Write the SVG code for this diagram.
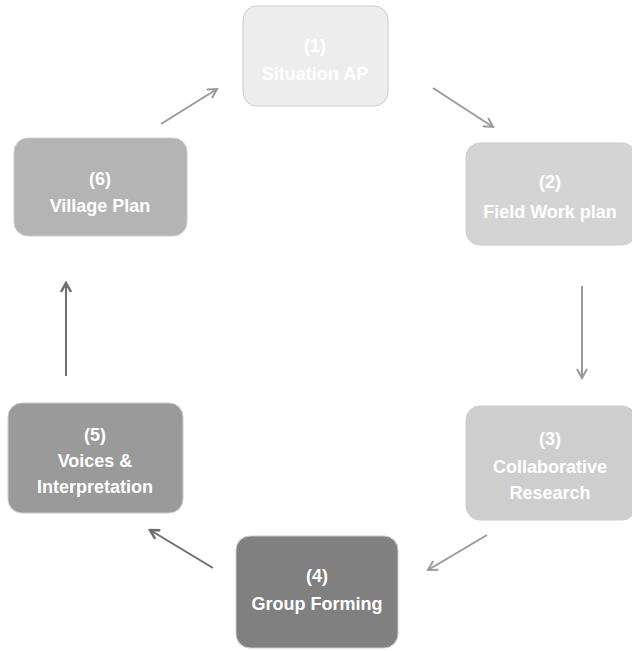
<svg xmlns="http://www.w3.org/2000/svg" width="632" height="651" viewBox="0 0 632 651">
<style>
.box{stroke:#cccccc;stroke-width:1}
.t{font-family:"Liberation Sans",Arial,sans-serif;font-weight:bold;font-size:18px;fill:#ffffff;text-anchor:middle}
.c{fill:none;stroke:#9a9a9a;stroke-width:2;marker-end:url(#ah)}
.d{stroke:#6e6e6e;marker-end:url(#ahd)}
</style>
<defs>
<marker id="ah" markerWidth="12" markerHeight="12" refX="10" refY="6" orient="auto" markerUnits="userSpaceOnUse">
<path d="M1,1 L10,6 L1,11" fill="none" stroke="#9a9a9a" stroke-width="2"/>
</marker>
<marker id="ahd" markerWidth="12" markerHeight="12" refX="10" refY="6" orient="auto" markerUnits="userSpaceOnUse">
<path d="M1,1 L10,6 L1,11" fill="none" stroke="#6e6e6e" stroke-width="2.5"/>
</marker>
</defs>
<rect width="632" height="651" fill="#ffffff"/>
<g id="n1"><rect class="box" x="243" y="6" width="145" height="100" rx="14" fill="#ededed"/><text class="t" x="315" y="52">(1)</text><text class="t" x="315" y="80">Situation AP</text></g>
<g id="n2"><rect class="box" x="466" y="143" width="170" height="102" rx="14" fill="#d4d4d4"/><text class="t" x="550" y="188">(2)</text><text class="t" x="550" y="218">Field Work plan</text></g>
<g id="n3"><rect class="box" x="466" y="406" width="170" height="114" rx="14" fill="#cecece"/><text class="t" x="550" y="445">(3)</text><text class="t" x="550" y="473">Collaborative</text><text class="t" x="550" y="499">Research</text></g>
<g id="n4"><rect class="box" x="236" y="536" width="162" height="112" rx="14" fill="#808080"/><text class="t" x="317" y="582">(4)</text><text class="t" x="317" y="610">Group Forming</text></g>
<g id="n5"><rect class="box" x="8" y="403" width="175" height="110" rx="14" fill="#9a9a9a"/><text class="t" x="95" y="441">(5)</text><text class="t" x="95" y="467">Voices &amp;</text><text class="t" x="95" y="493">Interpretation</text></g>
<g id="n6"><rect class="box" x="14" y="138" width="173" height="98" rx="14" fill="#b4b4b4"/><text class="t" x="100" y="185">(6)</text><text class="t" x="100" y="212">Village Plan</text></g>
<g id="connectors">
<path class="c" d="M161,124 L217,89"/>
<path class="c" d="M433,88 L493,127"/>
<path class="c" d="M582,286 L582,378"/>
<path class="c" d="M487,535 L428,570"/>
<path class="c d" d="M213,568 L150,530"/>
<path class="c d" d="M66,376 L66,283"/>
</g>
</svg>
